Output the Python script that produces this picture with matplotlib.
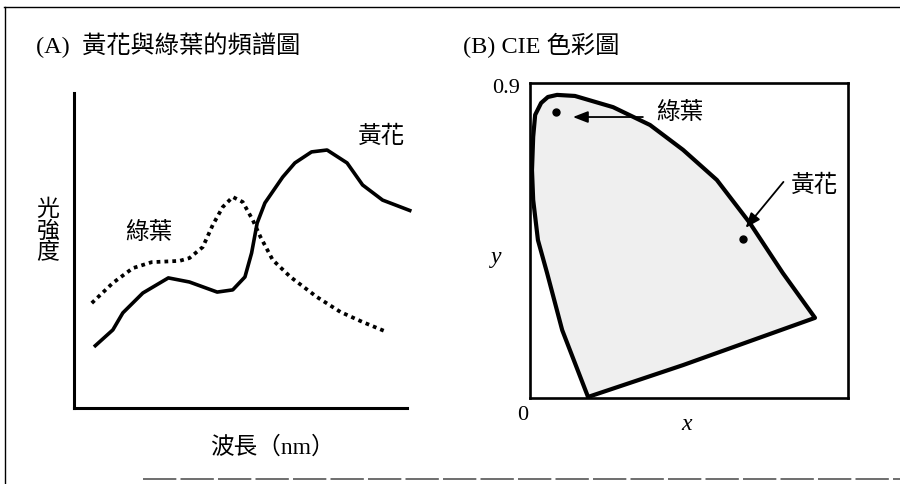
import matplotlib
matplotlib.use('Agg')
import matplotlib.pyplot as plt
from matplotlib.lines import Line2D
from matplotlib.patches import Polygon

plt.rcParams['font.family'] = ['Liberation Serif', 'Noto Sans CJK TC']
plt.rcParams['hatch.color'] = '#9a9a9a'
plt.rcParams['hatch.linewidth'] = 0.5

# (A) 頻譜: 波長 (nm) 與相對光強度
yellow_wl = [418, 435, 444, 462, 485, 504, 529, 543, 554, 560, 565, 572,
             588, 599, 614, 628, 646, 660, 678, 704]
yellow_I = [0.194, 0.248, 0.302, 0.365, 0.413, 0.400, 0.368, 0.375, 0.416,
            0.492, 0.587, 0.651, 0.733, 0.778, 0.813, 0.819, 0.778, 0.708,
            0.660, 0.625]
green_wl = [416, 435, 453, 470, 495, 504, 516, 525, 534, 543, 552, 561,
            568, 579, 595, 619, 640, 660, 682]
green_I = [0.333, 0.397, 0.444, 0.463, 0.467, 0.476, 0.511, 0.581, 0.638,
           0.670, 0.654, 0.597, 0.543, 0.470, 0.416, 0.352, 0.305, 0.273,
           0.241]

# (B) CIE 色度圖邊界 (x, y)
locus_x = [0.146, 0.113, 0.081, 0.043, 0.020, 0.008, 0.005, 0.008, 0.013,
           0.028, 0.045, 0.068, 0.113, 0.209, 0.302, 0.385, 0.470, 0.553,
           0.636, 0.717, 0.385]
locus_y = [0.003, 0.100, 0.194, 0.357, 0.451, 0.566, 0.651, 0.746, 0.809,
           0.843, 0.860, 0.866, 0.863, 0.831, 0.780, 0.709, 0.623, 0.500,
           0.357, 0.229, 0.094]
leaf_xy = (0.065, 0.817)
flower_xy = (0.536, 0.454)

W, H = 900, 484


def fx(x):
    return x / W


def fy(y):
    return 1 - y / H


def box(x0, y0, x1, y1):
    return [fx(x0), fy(y1), (x1 - x0) / W, (y1 - y0) / H]


fig = plt.figure(figsize=(W / 100, H / 100), dpi=100)
fig.patch.set_facecolor('white')

# 外框
fig.add_artist(Line2D([fx(4), fx(900)], [fy(7), fy(7)], color='k', lw=1.0))
fig.add_artist(Line2D([fx(5), fx(5)], [fy(7), fy(484)], color='k', lw=1.0))
fig.add_artist(Line2D([fx(143), fx(900)], [fy(479), fy(479)], color='#555555',
                      lw=1.2, linestyle=(0, (20, 2.5))))

# ---- (A) ----
ax1 = fig.add_axes(box(74, 93, 407, 408))
ax1.plot(yellow_wl, yellow_I, color='k', lw=2.6, solid_joinstyle='round',
         solid_capstyle='butt', clip_on=False)
ax1.plot(green_wl, green_I, color='k', lw=2.7, linestyle=(0, (1, 1.1)),
         dash_capstyle='butt', clip_on=False)
ax1.set_xlim(400, 700)
ax1.set_ylim(0, 1)
for s in ['top', 'right']:
    ax1.spines[s].set_visible(False)
for s in ['left', 'bottom']:
    ax1.spines[s].set_linewidth(2.2)
ax1.set_xticks([])
ax1.set_yticks([])

fig.text(fx(36), fy(45), '(A)  黃花與綠葉的頻譜圖', fontsize=17.5,
         ha='left', va='center')
fig.text(fx(48), fy(232), '光\n強\n度', fontsize=16.5, ha='center',
         va='center', linespacing=1.02)
fig.text(fx(149), fy(233), '綠葉', fontsize=17, ha='center', va='center')
fig.text(fx(381), fy(137), '黃花', fontsize=17, ha='center', va='center')
fig.text(fx(272), fy(447), '波長（nm）', fontsize=17, ha='center', va='center')

# ---- (B) ----
ax2 = fig.add_axes(box(530, 83, 848, 398))
pts = list(zip(locus_x, locus_y))
ax2.add_patch(Polygon(pts, closed=True, facecolor='#efefef', edgecolor='none',
                      hatch='....'))
ax2.add_patch(Polygon(pts, closed=True, facecolor='none', edgecolor='k',
                      lw=3.0, joinstyle='round'))
ax2.plot(*leaf_xy, 'o', color='k', ms=5)
ax2.plot(*flower_xy, 'o', color='k', ms=5)
ax2.set_xlim(0, 0.8)
ax2.set_ylim(0, 0.9)
for s in ax2.spines.values():
    s.set_linewidth(1.9)
ax2.set_xticks([])
ax2.set_yticks([])

arrow = dict(arrowstyle='-|>,head_length=0.9,head_width=0.35', color='k',
             lw=1.3, shrinkA=0, shrinkB=0)
ax2.annotate('', xy=(0.135, 0.892), xycoords='axes fraction',
             xytext=(0.355, 0.892), textcoords='axes fraction',
             arrowprops=arrow)
ax2.annotate('', xy=(0.678, 0.540), xycoords='axes fraction',
             xytext=(0.797, 0.686), textcoords='axes fraction',
             arrowprops=arrow)

fig.text(fx(463), fy(45), '(B) CIE 色彩圖', fontsize=17.5, ha='left',
         va='center')
fig.text(fx(680), fy(113), '綠葉', fontsize=17, ha='center', va='center')
fig.text(fx(814), fy(186), '黃花', fontsize=17, ha='center', va='center')
fig.text(fx(506), fy(88), '0.9', fontsize=16, ha='center', va='center')
fig.text(fx(523), fy(415), '0', fontsize=16, ha='center', va='center')
fig.text(fx(496), fy(257), 'y', fontsize=17, style='italic', ha='center',
         va='center')
fig.text(fx(687), fy(424), 'x', fontsize=17, style='italic', ha='center',
         va='center')

fig.savefig('out.png', dpi=100, facecolor='white')
